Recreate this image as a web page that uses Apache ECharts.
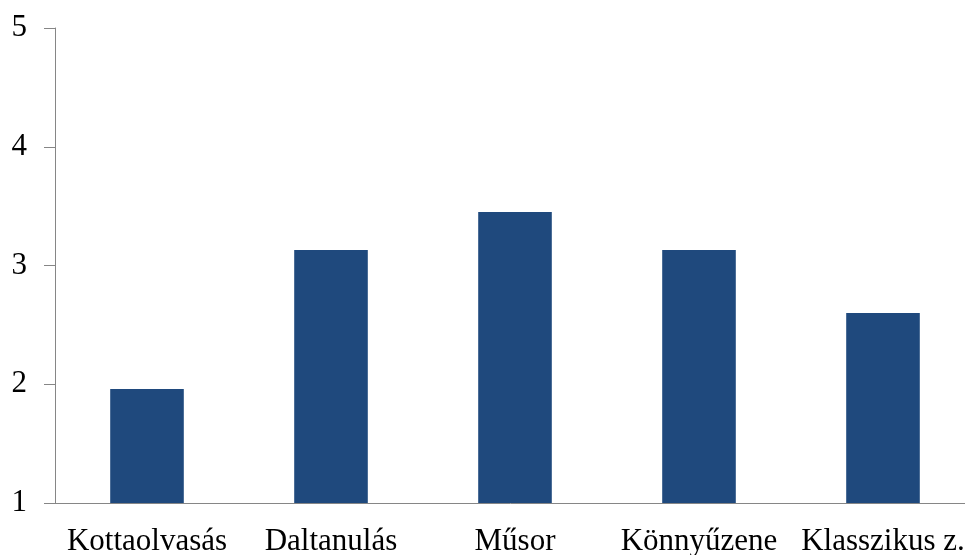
<!DOCTYPE html>
<html>
<head>
<meta charset="utf-8">
<script src="https://cdn.jsdelivr.net/npm/echarts@6/dist/echarts.min.js"></script>
<style>html,body{margin:0;padding:0;background:#fff;}#c{width:965px;height:555px;}</style>
</head>
<body>
<div id="c"></div>
<script>
const categories = ["Kottaolvasás", "Daltanulás", "Műsor", "Könnyűzene", "Klasszikus z."];
const values = [1.96, 3.13, 3.45, 3.13, 2.6];
const yTicks = [1, 2, 3, 4, 5];

const chart = echarts.init(document.getElementById('c'), null, {renderer: 'canvas'});
const font = '"Liberation Serif", "Times New Roman", serif';
chart.setOption({
  animation: false,
  backgroundColor: '#ffffff',
  grid: {left: 55, width: 920, top: 28, bottom: 52, containLabel: false, outerBoundsMode: 'none'},
  xAxis: {
    type: 'category',
    data: categories,
    axisLine: {show: true, lineStyle: {color: '#868686', width: 1}},
    axisTick: {show: false},
    axisLabel: {interval: 0, margin: 23, color: '#000', fontFamily: font, fontSize: 31}
  },
  yAxis: {
    type: 'value',
    min: yTicks[0],
    max: yTicks[yTicks.length - 1],
    interval: 1,
    axisLine: {show: true, lineStyle: {color: '#868686', width: 1}},
    axisTick: {show: true, length: 11, lineStyle: {color: '#868686', width: 1}},
    splitLine: {show: false},
    axisLabel: {margin: 28, color: '#000', fontFamily: font, fontSize: 31}
  },
  series: [{
    type: 'bar',
    data: values,
    barWidth: '40%',
    itemStyle: {color: '#1F497D'}
  }]
});
</script>
</body>
</html>
